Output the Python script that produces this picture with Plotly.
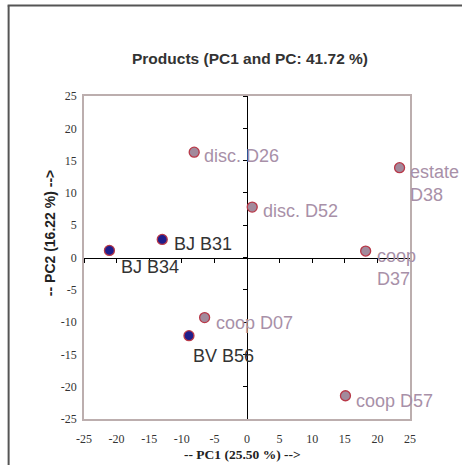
import plotly.graph_objects as go

# ---- data ----
labels = ["BJ B34", "BJ B31", "disc. D26", "disc. D52", "estate<br>D38",
          "coop<br>D37", "coop D07", "BV B56", "coop D57"]
pc1 = [-21.1, -13.0, -8.1, 0.8, 23.4, 18.2, -6.5, -8.9, 15.1]
pc2 = [1.1, 2.8, 16.3, 7.8, 13.9, 1.0, -9.3, -12.1, -21.4]
group = ["B", "B", "D", "D", "D", "D", "D", "B", "D"]
tick_vals = [-25, -20, -15, -10, -5, 0, 5, 10, 15, 20, 25]
tick_text = ["-25", "-20", "-15", "-10", "-5", "0", "5", "10", "15", "20", "25"]

# ---- styling (label offsets in pixels) ----
label_dx = [10, 10, 8, 9, 8, 9, 9, 2, 9]
label_dy = [17, 5, 4, 4, 16, 16, 5, 20, 5]
fill = {"B": "#1e1e8c", "D": "#a28a9c"}
txtcol = {"B": "#333333", "D": "#a890a8"}

fig = go.Figure()

for g in ["D", "B"]:
    idx = [i for i in range(len(labels)) if group[i] == g]
    fig.add_trace(go.Scatter(
        x=[pc1[i] for i in idx], y=[pc2[i] for i in idx], mode="markers",
        marker=dict(size=10, color=fill[g], line=dict(color="#b83848", width=1.3)),
        showlegend=False, hoverinfo="skip"))

# dummy trace for the zero-line axes
fig.add_trace(go.Scatter(x=[0], y=[0], xaxis="x2", yaxis="y2", mode="markers",
                         marker=dict(opacity=0), showlegend=False, hoverinfo="skip"))

ann = []
for i, lab in enumerate(labels):
    ann.append(dict(x=pc1[i], y=pc2[i], xref="x", yref="y", text=lab,
                    showarrow=False, xanchor="left", yanchor="middle", align="left",
                    xshift=label_dx[i], yshift=-label_dy[i],
                    font=dict(family="Liberation Sans, Arial", size=18, color=txtcol[group[i]])))

W, H = 462, 465
L, R, T, B = 84, 51.5, 95.7, 46
pw, ph = W - L - R, H - T - B
def px(xp): return (xp - L) / pw
def py(yp): return (H - B - yp) / ph

ann.append(dict(x=px(250), y=py(58), xref="paper", yref="paper",
                text="<b>Products (PC1 and PC: 41.72 %)</b>", showarrow=False,
                xanchor="center", yanchor="middle",
                font=dict(family="Liberation Sans, Arial", size=15.5, color="#333333")))
ann.append(dict(x=px(243), y=py(455), xref="paper", yref="paper",
                text="<b>-- PC1 (25.50 %) --></b>", showarrow=False,
                xanchor="center", yanchor="middle",
                font=dict(family="Liberation Serif, Times New Roman", size=13.5, color="#222222")))
ann.append(dict(x=px(50), y=py(298), xref="paper", yref="paper",
                text="<b>-- PC2 (16.22 %) --></b>", showarrow=False, textangle=-90,
                xanchor="center", yanchor="bottom",
                font=dict(family="Liberation Sans, Arial", size=14, color="#222222")))

tickfont = dict(family="Liberation Serif, Times New Roman", size=12, color="#333333")
frame = "#bcaeae"

fig.update_layout(
    width=W, height=H, margin=dict(l=L, r=R, t=T, b=B),
    paper_bgcolor="white", plot_bgcolor="white",
    annotations=ann,
    xaxis=dict(range=[-25, 25], tickvals=tick_vals, ticktext=tick_text,
               showgrid=False, zeroline=False,
               showline=True, mirror=True, linecolor=frame, linewidth=1.5,
               ticks="outside", ticklen=8, tickcolor="rgba(0,0,0,0)",
               tickfont=tickfont),
    yaxis=dict(range=[-25, 25], tickvals=tick_vals, ticktext=tick_text,
               showgrid=False, zeroline=False,
               showline=True, mirror=True, linecolor=frame, linewidth=1.5,
               ticks="outside", ticklen=3, tickcolor="rgba(0,0,0,0)",
               tickfont=tickfont),
    xaxis2=dict(range=[-25, 25], tickvals=tick_vals, overlaying="x", anchor="free",
                position=0.5, side="bottom", showline=True, linecolor="black", linewidth=1,
                ticks="outside", ticklen=4, tickcolor="black", showticklabels=False,
                showgrid=False, zeroline=False, layer="below traces"),
    yaxis2=dict(range=[-25, 25], tickvals=tick_vals, overlaying="y", anchor="free",
                position=0.5, side="left", showline=True, linecolor="black", linewidth=1,
                ticks="outside", ticklen=4, tickcolor="black", showticklabels=False,
                showgrid=False, zeroline=False, layer="below traces"),
    shapes=[
        dict(type="line", xref="paper", yref="paper", x0=px(8.5), x1=px(8.5),
             y0=py(5), y1=py(470), line=dict(color="#555555", width=2)),
        dict(type="line", xref="paper", yref="paper", x0=px(7.5), x1=px(470),
             y0=py(5), y1=py(5), line=dict(color="#555555", width=2)),
    ],
)

fig.write_html("out.html")
